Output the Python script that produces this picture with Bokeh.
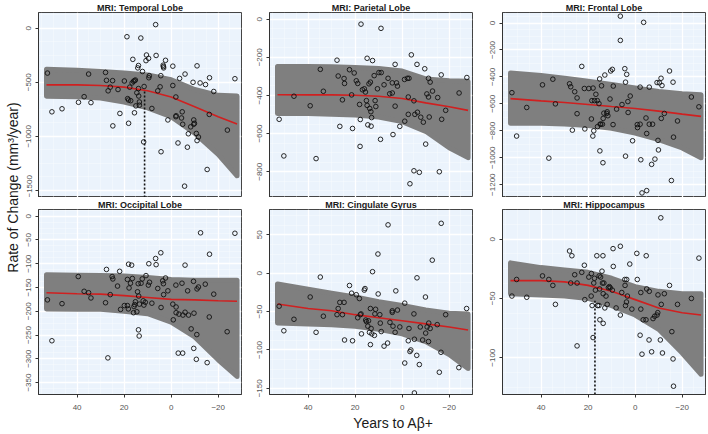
import math
from bokeh.plotting import figure
from bokeh.layouts import row, column
from bokeh.models import Range1d, FixedTicker
from bokeh.embed import file_html
from bokeh.resources import INLINE
from bokeh.core.properties import value

# ---------------- data ----------------
x_ticks = [40, 20, 0, -20]
curve_x = [53, 40, 30, 20, 10, 0, -10, -20, -28]

temporal_x = [52.6, 50.7, 46.4, 39.4, 37.0, 35.1, 34.1, 27.9, 27.5, 26.8,
              25.9, 24.9, 24.8, 22.6, 21.8, 19.9, 18.8, 18.5, 18.1, 18.1,
              17.6, 17.2, 16.6, 16.3, 16.0, 15.6, 15.6, 15.2, 15.0, 14.6,
              14.2, 13.9, 13.9, 13.8, 13.5, 13.5, 12.9, 12.2, 11.7, 11.5,
              10.7, 10.5, 9.6, 9.5, 9.3, 8.2, 6.6, 6.4, 5.7, 4.7,
              4.4, 4.3, 3.4, 3.3, 3.2, 2.4, 1.4, -0.7, -0.7, -2.0,
              -2.0, -2.1, -2.9, -3.6, -4.4, -4.7, -4.9, -5.7, -5.9, -6.9,
              -7.3, -8.3, -9.3, -9.6, -9.6, -9.9, -10.7, -11.0, -11.0, -11.6,
              -12.3, -14.6, -15.3, -16.2, -16.3, -18.1, -23.9, -27.1]
temporal_y = [-415, -773, -745, -685, -633, -424, -688, -409, -482, -579,
              -545, -485, -903, -567, -788, -488, -79, -651, -664, -879,
              -545, -670, -506, -288, -491, -485, -782, -479, -718, -597,
              -367, -345, -558, -627, -682, -712, -91, -400, -1051, -539,
              -300, -248, -279, -458, -439, -742, 33, -252, -579, -542,
              -439, -1142, -342, -355, -367, -297, -848, -351, -530, -636,
              -818, -809, -1061, -464, -830, -773, -888, -1460, -424, -1100,
              -976, -912, -500, -848, -888, -879, -973, -348, -1039, -1006,
              -506, -521, -1306, -797, -458, -585, -942, -467]
temporal_fit = [-524, -524, -530, -545, -579, -636, -727, -818, -885]
temporal_hi = [-379, -388, -400, -415, -433, -476, -567, -621, -627]
temporal_lo = [-630, -633, -645, -682, -736, -818, -970, -1167, -1364]

parietal_x = [52.3, 50.3, 46.0, 39.1, 36.6, 34.8, 33.5, 27.7, 27.2, 26.5,
              25.4, 24.7, 24.5, 22.4, 21.5, 21.1, 20.4, 19.5, 18.9, 17.9,
              18.1, 17.8, 17.5, 16.9, 16.1, 15.6, 15.2, 14.9, 14.9, 14.6,
              14.1, 13.8, 13.5, 13.3, 13.2, 13.0, 12.6, 11.9, 11.5, 11.2,
              10.5, 9.9, 9.2, 9.0, 8.9, 7.7, 6.0, 5.3, 4.2, 4.2,
              3.9, 3.0, 3.0, 2.4, 2.0, 1.0, -1.0, -1.1, -2.2, -2.6,
              -2.6, -2.9, -3.3, -3.9, -5.0, -5.0, -5.4, -6.3, -6.5, -7.3,
              -7.9, -9.0, -9.6, -10.0, -10.5, -11.2, -11.2, -11.5, -11.9, -12.9,
              -15.1, -15.8, -16.6, -16.8, -18.5, -24.2, -27.5]
parietal_y = [-525, -717, -404, -454, -731, -263, -378, -215, -298, -562,
              -423, -311, -337, -265, -397, -573, -282, -323, -337, -667,
              -447, -526, -26, -370, -365, -382, -427, -205, -452, -554,
              -339, -468, -330, -485, -561, -516, -217, -296, -427, -458,
              -365, -280, -630, -48, -280, -344, -310, -391, -387, -334,
              -605, -237, -456, -334, -351, -562, -316, -535, -310, -408,
              -499, -310, -863, -187, -428, -795, -499, -237, -488, -803,
              -514, -540, -260, -655, -392, -310, -408, -513, -330, -377,
              -411, -800, -292, -525, -478, -387, -306]
parietal_fit = [-396, -397, -397, -399, -404, -416, -439, -459, -478]
parietal_hi = [-248, -248, -249, -253, -258, -272, -313, -323, -325]
parietal_lo = [-494, -495, -499, -502, -513, -537, -588, -674, -726]

frontal_x = [52.4, 50.4, 46.1, 39.4, 36.7, 35.0, 33.9, 27.9, 27.4, 26.7,
             25.7, 24.7, 24.7, 22.7, 21.6, 21.4, 19.7, 18.6, 18.4, 18.0,
             17.9, 17.6, 17.3, 16.7, 16.1, 16.0, 15.4, 15.1, 15.0, 14.9,
             14.6, 14.3, 13.9, 13.7, 13.6, 13.3, 12.9, 12.1, 11.9, 11.6,
             10.7, 10.4, 9.7, 9.4, 9.3, 7.9, 6.3, 6.3, 5.6, 4.4,
             4.1, 4.1, 3.6, 3.1, 3.0, 2.1, 1.1, -0.9, -1.0, -2.1,
             -2.1, -2.4, -2.9, -3.6, -4.6, -4.9, -4.9, -6.0, -6.0, -7.0,
             -7.4, -8.4, -9.3, -9.7, -9.9, -10.3, -11.0, -11.1, -11.4, -12.4,
             -14.6, -15.4, -16.1, -16.3, -18.0, -23.9, -27.1]
frontal_y = [-517, -839, -627, -459, -1003, -417, -600, -451, -473, -795,
             -510, -556, -673, -322, -486, -786, -486, -712, -576, -839,
             -483, -800, -576, -529, -576, -769, -598, -415, -949, -751,
             -751, -466, -751, -1037, -708, -669, -386, -671, -659, -688,
             -564, -356, -344, -754, -468, -639, 51, -129, -605, -339,
             -439, -988, -381, -583, -664, -542, -874, -754, -776, -476,
             -751, -1015, -1261, 5, -705, -820, -1244, -476, -751, -1049,
             -751, -1010, -442, -871, -942, -444, -410, -708, -464, -671,
             -356, -1169, -439, -847, -727, -549, -622]
frontal_fit = [-561, -578, -590, -605, -620, -634, -654, -676, -693]
frontal_hi = [-371, -390, -410, -432, -456, -483, -508, -525, -532]
frontal_lo = [-744, -744, -749, -761, -781, -817, -866, -927, -1000]

occipital_x = [52.6, 50.7, 46.4, 39.5, 37.0, 35.1, 34.1, 27.9, 27.5, 26.9,
               25.9, 25.1, 24.8, 22.8, 21.9, 21.5, 19.9, 18.6, 18.6, 18.2,
               18.1, 17.9, 17.3, 16.8, 16.5, 16.0, 15.8, 15.5, 15.2, 14.6,
               14.3, 14.0, 13.9, 13.8, 13.6, 13.5, 12.8, 12.3, 11.9, 11.6,
               11.0, 10.7, 9.7, 9.5, 9.2, 8.2, 6.6, 6.4, 5.7, 4.4,
               4.3, 3.6, 3.3, 3.2, 2.4, 1.4, -0.7, -0.9, -2.0, -2.1,
               -2.1, -3.0, -3.3, -4.6, -4.9, -5.0, -5.9, -5.9, -7.0, -7.4,
               -8.5, -9.5, -9.6, -9.7, -10.7, -10.9, -11.0, -11.6, -12.5, -14.5,
               -15.3, -16.2, -16.3, -18.1, -23.8, -27.1]
occipital_y = [-176, -262, -184, -127, -158, -161, -172, -182, -112, -298,
               -165, -127, -132, -147, -116, -196, -188, -133, -188, -195,
               -101, -151, -141, -103, -131, -203, -190, -186, -180, -201,
               -159, -142, -239, -168, -252, -185, -141, -132, -178, -187,
               -181, -125, -145, -100, -139, -183, -89, -102, -152, -77,
               -192, -136, -142, -165, -130, -157, -185, -218, -145, -191,
               -203, -288, -206, -141, -288, -208, -103, -202, -157, -208,
               -237, -137, -278, -204, -301, -249, -153, -149, -35, -143,
               -308, -212, -80, -164, -243, -36]
occipital_fit = [-161, -163, -164, -167, -171, -175, -176, -178, -179]
occipital_hi = [-123, -124, -125, -126, -129, -133, -135, -135, -135]
occipital_lo = [-195, -196, -196, -200, -205, -223, -254, -302, -337]

cingulate_x = [52.3, 50.3, 46.0, 39.1, 36.6, 34.8, 33.5, 27.7, 27.2, 26.5,
               25.4, 24.7, 24.5, 22.4, 21.5, 21.1, 19.5, 18.9, 18.2, 17.8,
               17.5, 17.3, 16.1, 15.8, 15.5, 15.2, 14.6, 14.3, 13.9, 13.5,
               13.5, 13.2, 12.9, 12.6, 11.8, 11.6, 11.3, 10.3, 10.2, 9.5,
               9.3, 8.9, 7.7, 6.0, 6.2, 5.2, 4.2, 4.2, 3.9, 3.0,
               2.7, 2.0, 1.0, -1.1, -1.1, -2.6, -2.9, -3.3, -3.7, -5.0,
               -5.2, -6.2, -6.3, -5.2, -7.3, -7.7, -8.7, -9.9, -10.0, -10.6,
               -11.2, -11.3, -11.9, -12.8, -14.9, -15.8, -16.5, -16.6, -18.5, -24.1, -27.4]
cingulate_y = [-43, -75, -60, -31, -77, -5, -56, -54, -46, -38,
               -54, -38, -87, -16, -26, -88, -28, -58, -33, -54,
               -53, -79, -22, -20, -61, -63, -69, -62, -77, -46,
               -93, -72, -79, 2, -81, -53, -47, 25, -27, -54,
               -65, -76, -95, 63, -91, -64, -49, -51, -69, -77,
               -23, -48, -70, -39, -117, -88, -72, -102, -100, -53,
               -86, -107, -6, -156, -119, -70, -87, -31, -78, -70,
               -89, -65, -72, 17, -67, -129, -103, 65, -54, -123, -46]
cingulate_fit = [-40, -46, -49, -54, -58, -62, -66, -70, -74]
cingulate_hi = [-14, -21, -26, -31, -37, -42, -48, -52, -53]
cingulate_lo = [-65, -66, -67, -69, -73, -79, -89, -106, -124]

hippocampus_x = [52.4, 50.4, 46.1, 39.4, 36.7, 35.0, 33.9, 27.9, 26.9, 27.4,
                 25.7, 24.7, 24.7, 22.7, 21.6, 21.4, 19.7, 18.7, 18.6, 18.3,
                 17.9, 17.6, 17.3, 16.9, 16.3, 16.0, 15.4, 15.3, 15.1, 15.0,
                 14.7, 14.1, 13.9, 13.7, 13.6, 13.6, 13.3, 12.9, 12.4, 11.9,
                 11.4, 11.0, 10.6, 9.7, 9.4, 9.3, 8.1, 6.3, 6.3, 5.7,
                 4.4, 4.3, 4.1, 3.7, 3.6, 3.3, 2.3, 1.4, -0.7, -0.9,
                 -2.1, -2.4, -2.4, -2.9, -3.4, -4.6, -4.9, -4.7, -5.9, -6.0,
                 -7.0, -7.6, -8.3, -9.3, -9.6, -9.7, -10.7, -10.9, -11.1, -11.6,
                 -12.4, -14.6, -15.6, -16.1, -16.3, -18.0, -23.9, -27.1]
hippocampus_y = [-48, -34, -49, -31, -34, -39, -55, -10, -14, -37,
                 -30, -37, -90, -28, -22, -51, -32, -48, -29, -56,
                 -83, -37, -33, -43, -14, -56, -56, -31, -42, -68,
                 -32, -27, -37, -14, -46, -71, -37, -58, -48, -55,
                 -41, -40, -41, -43, -8, -23, -58, -6, -64, -45,
                 -34, -39, -56, -53, -34, -48, -21, -59, -12, -34,
                 -81, -59, -45, -97, -68, -68, -42, -14, -85, -44,
                 -95, -67, -65, -64, -62, -47, -85, 18, -55, -96,
                 -46, -39, -78, -101, -124, -55, -50, -16]
hippocampus_fit = [-35, -35, -36, -39, -44, -51, -58, -62, -64]
hippocampus_hi = [-20, -24, -26, -28, -33, -40, -44, -46, -46]
hippocampus_lo = [-46, -47, -48, -50, -56, -64, -76, -96, -114]

titles = ["MRI: Temporal Lobe", "MRI: Parietal Lobe", "MRI: Frontal Lobe",
          "MRI: Occipital Lobe", "MRI: Cingulate Gyrus", "MRI: Hippocampus"]
y_ranges = [(-1565, 145), (-935, 35), (-1295, 78), (-375, 14), (-158, 83), (-131, 25)]
y_ticks = [[0, -500, -1000, -1500], [0, -200, -400, -600, -800],
           [0, -200, -400, -600, -800, -1000, -1200],
           [0, -50, -100, -150, -200, -250, -300, -350],
           [50, 0, -50, -100, -150], [0, -50, -100]]
# dotted marker lines (x, top y) for Temporal Lobe and Hippocampus
vline_temporal = (11.3, -570)
vline_hippocampus = (17.1, -52)

X_RANGE = (56.4, -29.9)

# ---------------- styles ----------------
BG = "#EBF3FC"
BAND = "#7F7F7F"
RED = "#D02020"
FONT = "Liberation Sans"

panels = [
    (temporal_x, temporal_y, temporal_fit, temporal_hi, temporal_lo, vline_temporal),
    (parietal_x, parietal_y, parietal_fit, parietal_hi, parietal_lo, None),
    (frontal_x, frontal_y, frontal_fit, frontal_hi, frontal_lo, None),
    (occipital_x, occipital_y, occipital_fit, occipital_hi, occipital_lo, None),
    (cingulate_x, cingulate_y, cingulate_fit, cingulate_hi, cingulate_lo, None),
    (hippocampus_x, hippocampus_y, hippocampus_fit, hippocampus_hi, hippocampus_lo, vline_hippocampus),
]


def minor_of(ticks, rng, n=4):
    step = abs(ticks[0] - ticks[1])
    lo, hi = min(rng), max(rng)
    base = min(ticks) - step
    out = []
    k = 0
    while True:
        v = base + k * step / n
        if v > hi:
            break
        if lo < v < hi and (k % n) != 0:
            out.append(v)
        k += 1
    return out


FRAME_W, FRAME_H = 203, 185
borders = [(16, 13), (15, 15), (15, 2)]

figs = []
for i, (xs, ys, fit, hi, lo, vline) in enumerate(panels):
    col = i % 3
    bottom = i >= 3
    yr = y_ranges[i]
    p = figure(frame_width=FRAME_W, frame_height=FRAME_H,
               x_range=Range1d(*X_RANGE), y_range=Range1d(*yr),
               output_backend="svg", toolbar_location=None,
               min_border_left=borders[col][0], min_border_right=borders[col][1],
               min_border_top=0, min_border_bottom=(19 if bottom else 0),
               background_fill_color=BG, border_fill_color="white",
               title=titles[i])
    p.title.align = "center"
    p.title.text_font = FONT
    p.title.text_font_size = "9px"
    p.title.text_font_style = "bold"
    p.title.text_color = "#1a1a1a"
    p.title.standoff = 0
    p.title.offset = 0

    p.xaxis.ticker = FixedTicker(ticks=x_ticks, minor_ticks=minor_of(x_ticks, X_RANGE))
    p.yaxis.ticker = FixedTicker(ticks=y_ticks[i], minor_ticks=minor_of(y_ticks[i], yr))
    p.yaxis.major_label_orientation = "vertical"
    p.axis.major_label_text_font = FONT
    p.axis.major_label_text_font_size = "8px"
    p.axis.major_label_text_color = "#555555"
    p.yaxis.major_label_standoff = 3
    p.xaxis.major_label_standoff = 6
    p.axis.major_tick_out = 3
    p.axis.major_tick_in = 0
    p.axis.major_tick_line_color = "#333333"
    p.axis.minor_tick_line_color = None
    p.axis.axis_line_color = "#333333"
    if not bottom:
        p.xaxis.visible = False

    p.grid.grid_line_color = "white"
    p.grid.grid_line_width = 1.3
    p.grid.minor_grid_line_color = "white"
    p.grid.minor_grid_line_alpha = 0.55
    p.grid.minor_grid_line_width = 0.6
    p.outline_line_color = "#444444"

    band_x = curve_x + curve_x[::-1]
    band_y = hi + lo[::-1]
    p.patch(band_x, band_y, fill_color=BAND, line_color=BAND, line_width=5,
            line_join="round")
    p.line(curve_x, fit, line_color=RED, line_width=1.6)
    if vline is not None:
        p.line([vline[0], vline[0]], [yr[0], vline[1]], line_color="#111111",
               line_width=1.6, line_dash="2 2")
    p.scatter(xs, ys, marker="circle", size=4.6, fill_color=None,
              line_color="#111111", line_width=0.9)
    figs.append(p)

TOTAL_H = 433
YL_W = 22
# shared y label
yl = figure(width=YL_W, height=TOTAL_H, x_range=Range1d(0, YL_W), y_range=Range1d(0, TOTAL_H),
            output_backend="svg", toolbar_location=None, min_border=0,
            outline_line_color=None)
yl.axis.visible = False
yl.grid.visible = False
yl.text(x=[12], y=[246], text=["Rate of Change (mm³/year)"], angle=math.pi / 2,
        text_align="center", text_baseline="middle", text_font=value(FONT),
        text_font_size="14px", text_color="#1a1a1a")

# shared x label
total_w = sum(b[0] + b[1] + FRAME_W for b in borders)
XL_H = 18
xl = figure(width=total_w, height=XL_H, x_range=Range1d(0, total_w), y_range=Range1d(0, XL_H),
            output_backend="svg", toolbar_location=None, min_border=0,
            outline_line_color=None)
xl.axis.visible = False
xl.grid.visible = False
xl.text(x=[371], y=[9], text=["Years to Aβ+"], text_align="center",
        text_baseline="middle", text_font=value(FONT), text_font_size="14px",
        text_color="#1a1a1a")

layout = row(yl, column(row(*figs[:3]), row(*figs[3:]), xl))

open("out.html", "w").write(file_html(layout, INLINE))
